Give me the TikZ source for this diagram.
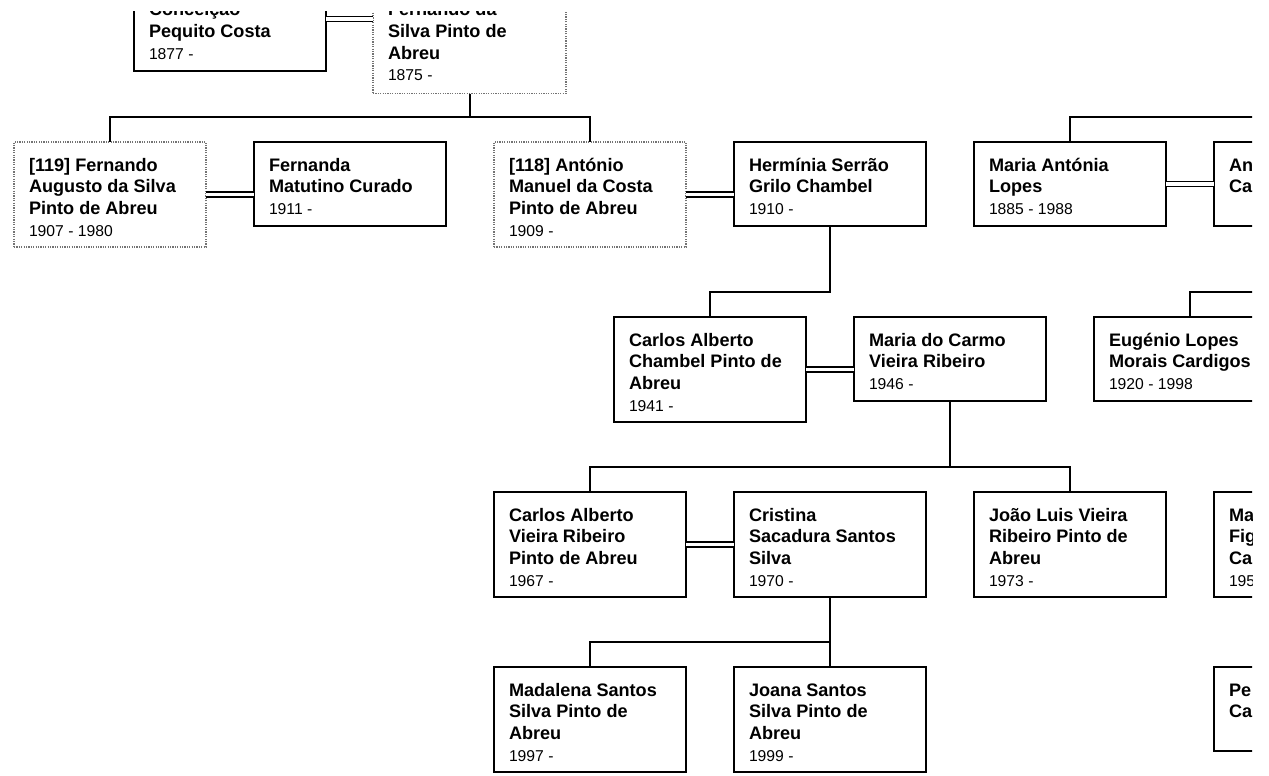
\documentclass[tikz,border=0pt]{standalone}
\usepackage{fontspec}
\setmainfont{Liberation Sans}
\usetikzlibrary{calc}
\newcommand\ptxt[2]{\parbox[t]{400pt}{\fontsize{18.1}{21.7}\selectfont\bfseries #1\\\fontsize{15.7}{21.7}\selectfont\mdseries #2}}
\newcommand\famnode[6]{%
  \node[#2, minimum height=#5pt] (#1) at (#3,#4) {};
  \node[ptext] (#1t) at ($(#1.north west)+(15,29)$) {#6};
}
\tikzset{
  pbox/.style={draw=black, line width=2pt, anchor=north west, minimum width=192pt, inner sep=0pt, outer sep=0pt},
  pdot/.style={draw=black!55, line width=1.3pt, dash pattern=on 1.2pt off 1.2pt, anchor=north west, minimum width=192pt, inner sep=0pt, outer sep=0pt},
  ptext/.style={anchor=base west, inner sep=0pt, outer sep=0pt},
  conn/.style={draw=black, line width=2pt},
  marr/.style={draw=black, double=white, double distance=3.3pt, line width=1.8pt},
}
\begin{document}
\begin{tikzpicture}[x=1pt,y=-1pt]
\useasboundingbox[fill=white] (0,0) rectangle (1269,776);
\begin{scope}
\clip (0,12) rectangle (1252,776);
% top row
\node[pbox, minimum height=105pt] (conc) at (134,-33.5) {};
\node[ptext] (conct) at (149,15.7) {\ptxt{Conceição\\Pequito Costa}{1877 -}};
\node[pdot, minimum width=193pt, minimum height=127pt] (fnd) at (373,-33.5) {};
\node[ptext] (fndt) at (388,15.7) {\ptxt{Fernando da\\Silva Pinto de\\Abreu}{1875 -}};
% row 2
\famnode{b119}{pdot}{14}{142}{105}{\ptxt{[119] Fernando\\Augusto da Silva\\Pinto de Abreu}{1907 - 1980}}
\famnode{fern}{pbox}{254}{142}{84}{\ptxt{Fernanda\\Matutino Curado}{1911 -}}
\famnode{b118}{pdot}{494}{142}{105}{\ptxt{[118] António\\Manuel da Costa\\Pinto de Abreu}{1909 -}}
\famnode{herm}{pbox}{734}{142}{84}{\ptxt{Hermínia Serrão\\Grilo Chambel}{1910 -}}
\famnode{mal}{pbox}{974}{142}{84}{\ptxt{Maria Antónia\\Lopes}{1885 - 1988}}
\famnode{anc}{pbox}{1214}{142}{84}{\ptxt{An\\Ca}{}}
% row 3
\famnode{cac}{pbox}{614}{317}{105}{\ptxt{Carlos Alberto\\Chambel Pinto de\\Abreu}{1941 -}}
\famnode{mdc}{pbox}{854}{317}{84}{\ptxt{Maria do Carmo\\Vieira Ribeiro}{1946 -}}
\famnode{eug}{pbox}{1094}{317}{84}{\ptxt{Eugénio Lopes\\Morais Cardigos}{1920 - 1998}}
% row 4
\famnode{cav}{pbox}{494}{492}{105}{\ptxt{Carlos Alberto\\Vieira Ribeiro\\Pinto de Abreu}{1967 -}}
\famnode{cri}{pbox}{734}{492}{105}{\ptxt{Cristina\\Sacadura Santos\\Silva}{1970 -}}
\famnode{jlv}{pbox}{974}{492}{105}{\ptxt{João Luis Vieira\\Ribeiro Pinto de\\Abreu}{1973 -}}
\famnode{mfc}{pbox}{1214}{492}{105}{\ptxt{Ma\\Fig\\Ca}{195}}
% row 5
\famnode{mad}{pbox}{494}{667}{105}{\ptxt{Madalena Santos\\Silva Pinto de\\Abreu}{1997 -}}
\famnode{joa}{pbox}{734}{667}{105}{\ptxt{Joana Santos\\Silva Pinto de\\Abreu}{1999 -}}
\famnode{pec}{pbox}{1214}{667}{84}{\ptxt{Pe\\Ca}{}}
% descent connectors
\coordinate (bar1) at ($(b119.north)+(0,-25)$);
\draw[conn] (fnd.south) |- (bar1) -- (b119.north);
\draw[conn] (bar1) -| (b118.north);
\draw[conn] (herm.south) |- ($(cac.north)+(0,-25)$) -- (cac.north);
\coordinate (bar3) at ($(cav.north)+(0,-25)$);
\draw[conn] (mdc.south) |- (bar3) -- (cav.north);
\draw[conn] (bar3) -| (jlv.north);
\coordinate (bar4) at ($(mad.north)+(0,-25)$);
\draw[conn] (cri.south) |- (bar4) -- (mad.north);
\draw[conn] (cri.south) -- (joa.north);
\coordinate (malp) at ($(mal.north)+(300,-25)$);
\draw[conn] (mal.north) |- (malp);
\coordinate (eugp) at ($(eug.north)+(300,-25)$);
\draw[conn] (eug.north) |- (eugp);
% marriages
\draw[marr] (conc.east) -- (conc.east -| fnd.west);
\draw[marr] (b119.east) -- (b119.east -| fern.west);
\draw[marr] (b118.east) -- (b118.east -| herm.west);
\draw[marr] (mal.east) -- (mal.east -| anc.west);
\draw[marr] (cac.east) -- (cac.east -| mdc.west);
\draw[marr] (cav.east) -- (cav.east -| cri.west);
\end{scope}
\end{tikzpicture}
\end{document}
